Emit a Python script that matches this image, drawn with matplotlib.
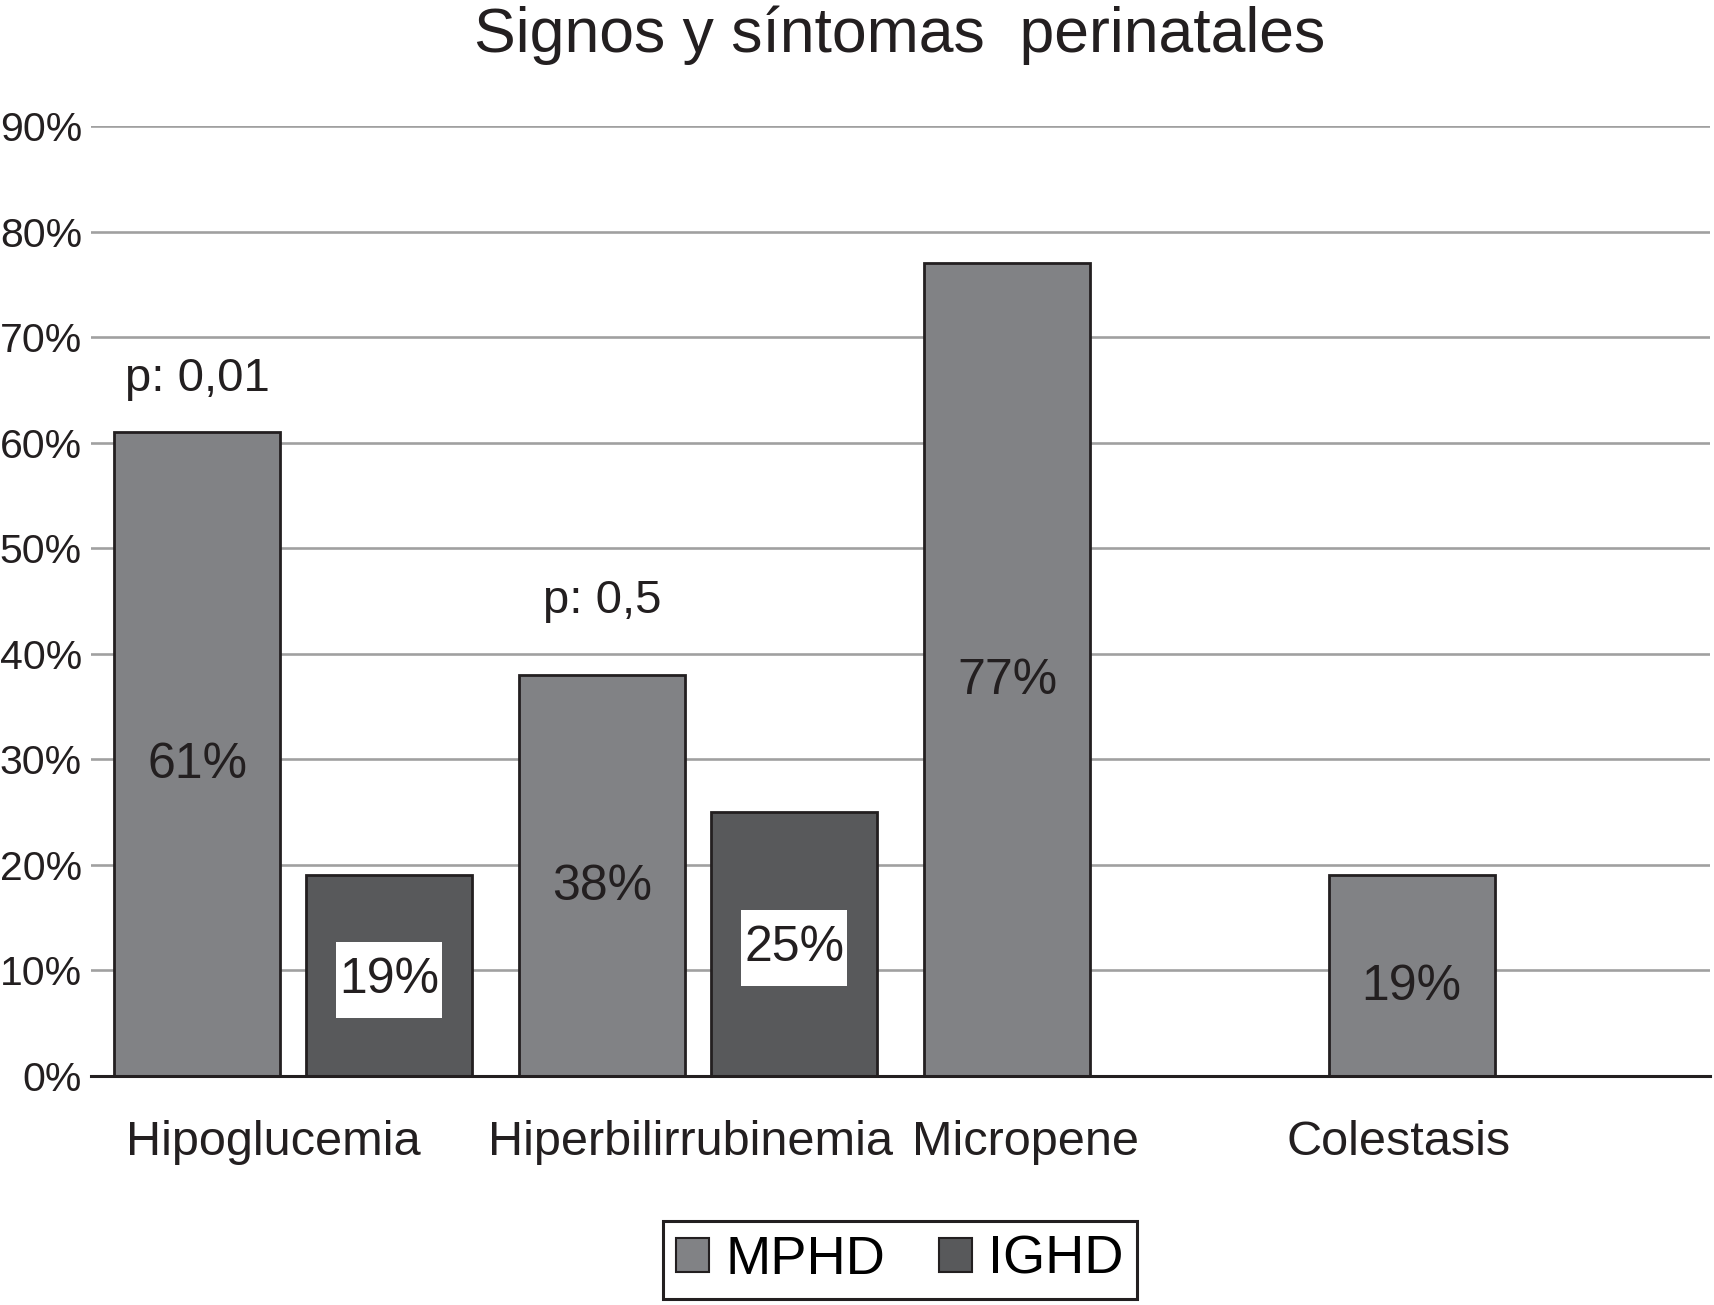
import numpy as np
import matplotlib.pyplot as plt
from matplotlib.path import Path

categories = ['Hipoglucemia', 'Hiperbilirrubinemia', 'Micropene', 'Colestasis']
mphd = [61, 38, 77, 19]
ighd = [19, 25, 0, 0]
p_labels = ['p: 0,01', 'p: 0,5']
p_heights = [66, 45]
yticks = list(range(0, 100, 10))

# label shifts relative to category centres (layout only)
label_shift = [-0.05, -0.02, -0.19, -0.27]

plt.rcParams['font.family'] = ['Liberation Sans', 'DejaVu Sans']
W, H = 1714, 1305
fig = plt.figure(figsize=(W / 100, H / 100), dpi=100)
ax = fig.add_axes([91 / W, 1 - 1076 / H, (1710 - 91) / W, (1076 - 126) / H])

x = np.arange(len(categories))
bw = 0.41
off = 0.237
c_m = '#818285'
c_i = '#58595b'
edge = '#231f20'


def white_box(x0, y0, width, height, mutation_size):
    # square box, wider padding vertically than horizontally
    px = 0.06 * mutation_size
    py = 0.30 * mutation_size
    x0, y0 = x0 - px, y0 - py
    x1, y1 = x0 + width + 2 * px, y0 + height + 2 * py
    return Path([(x0, y0), (x1, y0), (x1, y1), (x0, y1), (x0, y0)], closed=True)


b1 = ax.bar(x - off, mphd, bw, color=c_m, edgecolor=edge, linewidth=2, zorder=3, label='MPHD')
ighd_plot = [v if v > 0 else np.nan for v in ighd]
b2 = ax.bar(x + off, ighd_plot, bw, color=c_i, edgecolor=edge, linewidth=2, zorder=3, label='IGHD')

lbl1 = ax.bar_label(b1, labels=[f'{v}%' for v in mphd], label_type='center', fontsize=36, color='#231f20')
for t in lbl1:
    t.xyann = (0, -8)
lbl2 = ax.bar_label(b2, labels=[f'{v}%' if v > 0 else '' for v in ighd], label_type='center',
                    fontsize=36, color='#231f20')
for t in lbl2:
    t.xyann = (0, -3)
    if t.get_text():
        t.set_bbox(dict(boxstyle=white_box, facecolor='white', edgecolor='none'))

for i, (txt, h) in enumerate(zip(p_labels, p_heights)):
    ax.text(x[i] - off, h, txt, ha='center', va='center', fontsize=34, color='#231f20')

ax.set_xlim(-0.5, len(categories) - 0.5)
ax.set_ylim(0, 90)
ax.set_yticks(yticks)
ax.set_yticklabels([f'{v}%' for v in yticks])
ax.set_xticks(x + np.array(label_shift))
ax.set_xticklabels(categories)
ax.tick_params(axis='y', length=0, pad=6.5, labelsize=29.5, labelcolor='#231f20')
ax.tick_params(axis='x', length=0, pad=32, labelsize=35, labelcolor='#231f20')

ax.yaxis.grid(True, color='#a0a0a0', linewidth=1.9, zorder=0)
ax.set_axisbelow(True)
for s in ['top', 'right', 'left']:
    ax.spines[s].set_visible(False)
ax.spines['bottom'].set_color(edge)
ax.spines['bottom'].set_linewidth(2.2)
ax.spines['bottom'].set_zorder(4)

fig.text(900 / W, 1 - 52 / H, 'Signos y síntomas  perinatales', ha='center', va='baseline',
         fontsize=45, color='#231f20')

leg = fig.legend(handles=[b1, b2], labels=['MPHD', 'IGHD'], loc='center',
                 bbox_to_anchor=(900 / W, 1 - 1260 / H), ncol=2, fontsize=39,
                 frameon=True, fancybox=False, edgecolor=edge, framealpha=1,
                 handlelength=0.6, handleheight=0.6, handletextpad=0.3,
                 columnspacing=1.0, borderpad=0.25)
leg.get_frame().set_linewidth(2.2)
for h in leg.legend_handles:
    h.set_edgecolor(edge)
    h.set_linewidth(1.5)

fig.savefig('out.png', dpi=100)
